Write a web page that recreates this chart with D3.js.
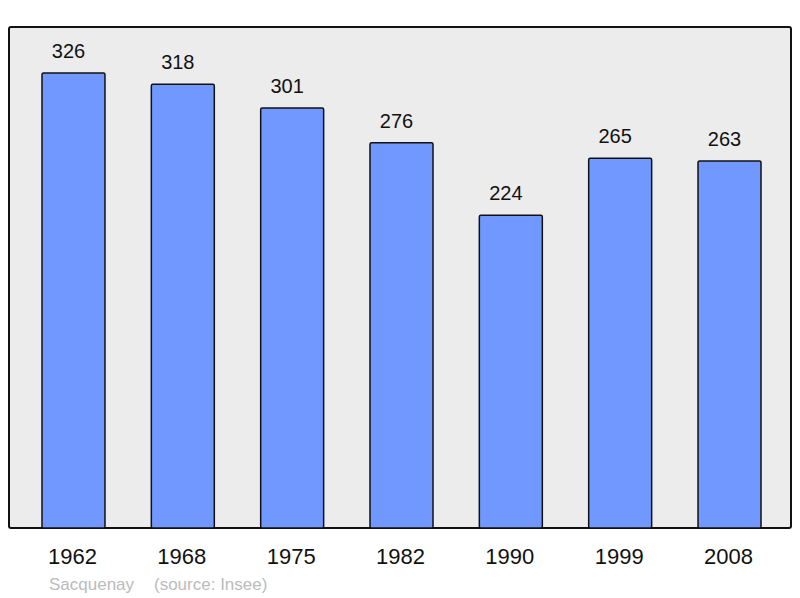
<!DOCTYPE html>
<html>
<head>
<meta charset="utf-8">
<script src="https://cdn.jsdelivr.net/npm/d3@7"></script>
<style>
  body { margin: 0; background: #fff; }
  text { font-family: "Liberation Sans", Arial, sans-serif; }
</style>
</head>
<body>
<script>
// population by census year
const years = ["1962", "1968", "1975", "1982", "1990", "1999", "2008"];
const population = [326, 318, 301, 276, 224, 265, 263];
const townName = "Sacquenay";
const sourceText = "(source: Insee)";

const width = 800, height = 598;
const frame = { x1: 9, y1: 27, x2: 791, y2: 528 };

const svg = d3.select("body").append("svg")
	.attr("width", width)
	.attr("height", height);

// plot background
svg.append("rect")
	.attr("x", frame.x1)
	.attr("y", frame.y1)
	.attr("width", frame.x2 - frame.x1)
	.attr("height", frame.y2 - frame.y1)
	.attr("rx", 2)
	.attr("fill", "#ececec")
	.attr("stroke", "#111")
	.attr("stroke-width", 2);

const x = d3.scaleBand()
	.domain(years)
	.range([42, 761])
	.paddingInner(0.424)
	.paddingOuter(0);

// y(0) at the frame bottom, 326 -> y 73
const y = d3.scaleLinear()
	.domain([0, 326])
	.range([frame.y2, 73]);

svg.selectAll("rect.bar")
		.data(population)
		.enter()
	.append("rect")
		.attr("class", "bar")
		.attr("x", (d, i) => x(years[i]))
		.attr("y", d => y(d))
		.attr("width", x.bandwidth())
		.attr("height", d => y(0) - y(d))
		.attr("rx", 1.5)
		.attr("fill", "#7098ff")
		.attr("stroke", "#111")
		.attr("stroke-width", 1.5);

svg.selectAll("text.val")
		.data(population)
		.enter()
	.append("text")
		.attr("class", "val")
		.attr("x", (d, i) => x(years[i]) + x.bandwidth() / 2 - 5)
		.attr("y", d => y(d) - 15)
		.attr("text-anchor", "middle")
		.attr("font-size", 20)
		.attr("fill", "#111")
		.text(d => d);

svg.selectAll("text.year")
		.data(years)
		.enter()
	.append("text")
		.attr("class", "year")
		.attr("x", d => x(d) + x.bandwidth() / 2 - 1)
		.attr("y", 564)
		.attr("text-anchor", "middle")
		.attr("font-size", 22)
		.attr("fill", "#111")
		.text(d => d);

svg.append("text")
	.attr("x", 49)
	.attr("y", 590)
	.attr("font-size", 17)
	.attr("fill", "#bbb")
	.text(townName);

svg.append("text")
	.attr("x", 154)
	.attr("y", 590)
	.attr("font-size", 17)
	.attr("fill", "#bbb")
	.text(sourceText);
</script>
</body>
</html>
